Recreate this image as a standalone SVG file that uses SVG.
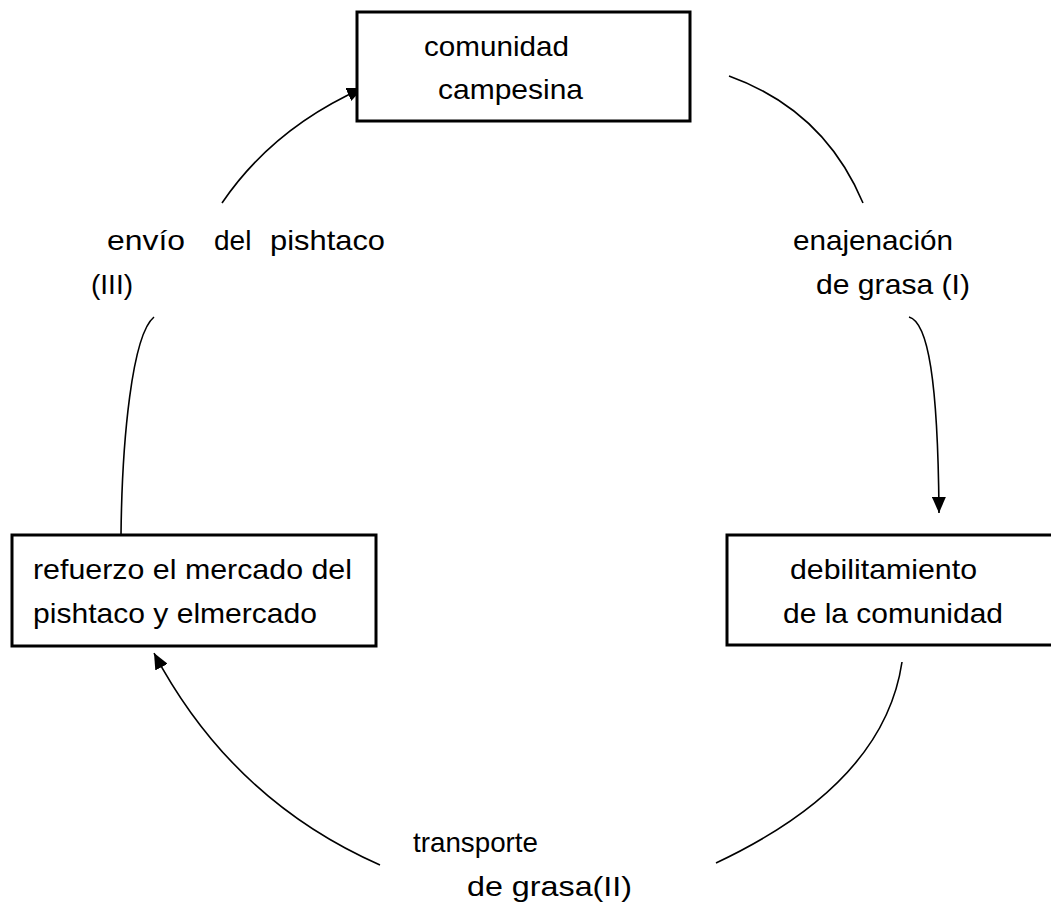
<svg xmlns="http://www.w3.org/2000/svg" width="1051" height="903" viewBox="0 0 1051 903">
<style>
.box{fill:#fff;stroke:#000;stroke-width:3}
.t{font-family:"Liberation Sans",Arial,sans-serif;font-size:28px;fill:#000}
.c{fill:none;stroke:#000;stroke-width:1.6}
</style>
<defs>
<marker id="ah" markerUnits="userSpaceOnUse" markerWidth="17" markerHeight="14" refX="16" refY="7" orient="auto">
<path d="M0,0 L16,7 L0,14 Z" fill="#000"/>
</marker>
</defs>
<rect width="1051" height="903" fill="#fff"/>
<g id="connectors">
<path class="c" d="M222,203 Q273,128 363,88" marker-end="url(#ah)"/>
<path class="c" d="M729,76 Q824,110 863,203"/>
<path class="c" d="M909,317 C928,322 938,380 939,513" marker-end="url(#ah)"/>
<path class="c" d="M902,662 Q884,784 716,863"/>
<path class="c" d="M380,865 Q232,800 154,653" marker-end="url(#ah)"/>
<path class="c" d="M121,535 C122,440 132,335 154,317"/>
</g>
<g id="node-comunidad">
<rect class="box" x="357" y="12" width="333" height="109"/>
<text class="t" x="424" y="56" textLength="145" lengthAdjust="spacingAndGlyphs">comunidad</text>
<text class="t" x="438" y="99" textLength="145" lengthAdjust="spacingAndGlyphs">campesina</text>
</g>
<g id="node-debilitamiento">
<rect class="box" x="727" y="535" width="340" height="110"/>
<text class="t" x="790" y="579" textLength="187" lengthAdjust="spacingAndGlyphs">debilitamiento</text>
<text class="t" x="783" y="623" textLength="220" lengthAdjust="spacingAndGlyphs">de la comunidad</text>
</g>
<g id="node-refuerzo">
<rect class="box" x="12" y="535" width="364" height="111"/>
<text class="t" x="33" y="579" textLength="319" lengthAdjust="spacingAndGlyphs">refuerzo el mercado del</text>
<text class="t" x="33" y="623" textLength="284" lengthAdjust="spacingAndGlyphs">pishtaco y elmercado</text>
</g>
<g id="label-I">
<text class="t" x="793" y="250" textLength="160" lengthAdjust="spacingAndGlyphs">enajenación</text>
<text class="t" x="816" y="294" textLength="154" lengthAdjust="spacingAndGlyphs">de grasa (I)</text>
</g>
<g id="label-II">
<text class="t" x="413" y="852" textLength="125" lengthAdjust="spacingAndGlyphs">transporte</text>
<text class="t" x="467" y="896" textLength="165" lengthAdjust="spacingAndGlyphs">de grasa(II)</text>
</g>
<g id="label-III">
<text class="t" x="107" y="250" textLength="78" lengthAdjust="spacingAndGlyphs">envío</text>
<text class="t" x="214" y="250">del</text>
<text class="t" x="270" y="250" textLength="115" lengthAdjust="spacingAndGlyphs">pishtaco</text>
<text class="t" x="91" y="294">(III)</text>
</g>
</svg>
